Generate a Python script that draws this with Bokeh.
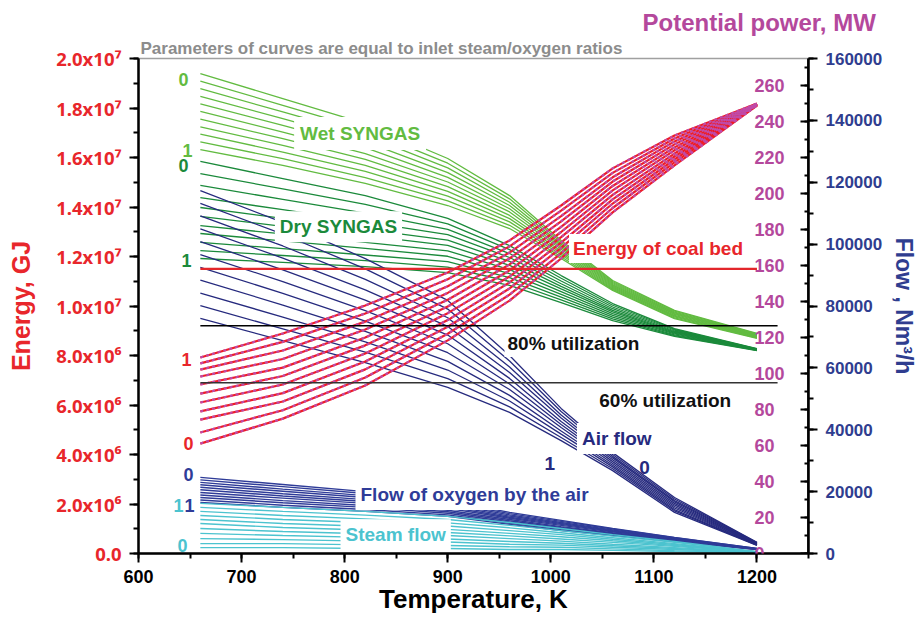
from bokeh.plotting import figure
from bokeh.models import (Range1d, LinearAxis, SingleIntervalTicker, CustomJSTickFormatter,
                          NumeralTickFormatter, Label, Title)
from bokeh.embed import file_html
from bokeh.resources import INLINE

# ---------------- data ----------------
T = [660, 740, 820, 900, 960, 1010, 1060, 1120, 1200]          # temperature, K
ratios = [0.0, 0.1, 0.2, 0.3, 0.4, 0.5, 0.6, 0.7, 0.8, 0.9, 1.0]  # inlet steam/oxygen ratio

# energy of wet syngas, 10^6 GJ (row = ratio 0 ... 1)
wet_syngas = [
    [19.39, 18.38, 17.37, 15.96, 14.46, 12.65, 11.03, 9.82, 8.89],
    [19.09, 18.11, 17.13, 15.77, 14.33, 12.58, 10.99, 9.79, 8.87],
    [18.78, 17.84, 16.89, 15.58, 14.19, 12.50, 10.95, 9.75, 8.85],
    [18.47, 17.57, 16.64, 15.39, 14.06, 12.43, 10.91, 9.72, 8.83],
    [18.17, 17.30, 16.40, 15.20, 13.93, 12.36, 10.87, 9.69, 8.81],
    [17.86, 17.03, 16.16, 15.01, 13.80, 12.29, 10.83, 9.66, 8.79],
    [17.55, 16.76, 15.92, 14.82, 13.66, 12.21, 10.79, 9.62, 8.77],
    [17.24, 16.49, 15.68, 14.63, 13.53, 12.14, 10.75, 9.59, 8.75],
    [16.94, 16.22, 15.44, 14.44, 13.40, 12.07, 10.71, 9.56, 8.73],
    [16.63, 15.95, 15.19, 14.25, 13.26, 11.99, 10.67, 9.52, 8.71],
    [16.32, 15.68, 14.95, 14.06, 13.13, 11.92, 10.63, 9.49, 8.69],
]
# energy of dry syngas, 10^6 GJ
dry_syngas = [
    [15.84, 15.15, 14.46, 13.54, 12.44, 11.23, 10.10, 9.09, 8.28],
    [15.35, 14.73, 14.11, 13.32, 12.28, 11.12, 10.03, 9.06, 8.27],
    [14.87, 14.31, 13.75, 13.10, 12.12, 11.01, 9.96, 9.03, 8.26],
    [14.38, 13.89, 13.40, 12.88, 11.96, 10.90, 9.89, 8.99, 8.26],
    [13.98, 13.54, 13.10, 12.66, 11.80, 10.79, 9.82, 8.96, 8.25],
    [13.62, 13.22, 12.84, 12.45, 11.64, 10.69, 9.76, 8.93, 8.24],
    [13.25, 12.91, 12.57, 12.23, 11.47, 10.58, 9.69, 8.90, 8.23],
    [12.93, 12.63, 12.33, 12.01, 11.31, 10.47, 9.62, 8.87, 8.22],
    [12.57, 12.32, 12.06, 11.79, 11.15, 10.36, 9.55, 8.83, 8.22],
    [12.24, 12.04, 11.83, 11.57, 10.99, 10.25, 9.48, 8.80, 8.21],
    [11.92, 11.76, 11.59, 11.35, 10.83, 10.14, 9.41, 8.77, 8.20],
]
# energy curves (red), 10^6 GJ
energy_curves = [
    [4.44, 5.45, 6.79, 8.61, 10.22, 11.92, 13.78, 15.68, 18.10],
    [4.89, 5.79, 7.11, 8.88, 10.46, 12.13, 13.96, 15.80, 18.11],
    [5.41, 6.14, 7.44, 9.16, 10.71, 12.35, 14.14, 15.92, 18.12],
    [5.74, 6.48, 7.76, 9.43, 10.95, 12.56, 14.31, 16.04, 18.12],
    [6.10, 6.83, 8.08, 9.71, 11.19, 12.78, 14.49, 16.16, 18.13],
    [6.46, 7.17, 8.41, 9.98, 11.44, 12.99, 14.67, 16.29, 18.14],
    [6.83, 7.51, 8.73, 10.25, 11.68, 13.20, 14.85, 16.41, 18.15],
    [7.15, 7.86, 9.05, 10.53, 11.92, 13.42, 15.03, 16.53, 18.16],
    [7.43, 8.20, 9.37, 10.80, 12.16, 13.63, 15.20, 16.65, 18.16],
    [7.68, 8.55, 9.70, 11.08, 12.41, 13.85, 15.38, 16.77, 18.17],
    [7.92, 8.89, 10.02, 11.35, 12.65, 14.06, 15.56, 16.89, 18.18],
]
# potential power, MW (magenta dashed)
power_curves = [
    [61.1, 74.9, 93.4, 118.4, 140.5, 163.9, 189.5, 215.6, 248.9],
    [67.2, 79.6, 97.8, 122.1, 143.8, 166.8, 192.0, 217.3, 249.0],
    [74.4, 84.4, 102.3, 126.0, 147.3, 169.8, 194.4, 218.9, 249.2],
    [78.9, 89.1, 106.7, 129.7, 150.6, 172.7, 196.8, 220.6, 249.2],
    [83.9, 93.9, 111.1, 133.5, 153.9, 175.7, 199.2, 222.2, 249.3],
    [88.8, 98.6, 115.6, 137.2, 157.3, 178.6, 201.7, 224.0, 249.4],
    [93.9, 103.3, 120.0, 140.9, 160.6, 181.5, 204.2, 225.6, 249.6],
    [98.3, 108.1, 124.4, 144.8, 163.9, 184.5, 206.7, 227.3, 249.7],
    [102.2, 112.8, 128.8, 148.5, 167.2, 187.4, 209.0, 228.9, 249.7],
    [105.6, 117.6, 133.4, 152.4, 170.6, 190.4, 211.5, 230.6, 249.8],
    [108.9, 122.2, 137.8, 156.1, 173.9, 193.3, 214.0, 232.2, 250.0],
]
# air flow, 10^3 Nm3/h
air_flow = [
    [117.3, 107.0, 95.3, 81.8, 64.0, 46.9, 32.6, 18.1, 3.6],
    [113.2, 103.2, 92.0, 79.0, 62.2, 45.9, 32.0, 17.6, 3.5],
    [109.1, 99.4, 88.6, 76.2, 60.3, 44.8, 31.4, 17.1, 3.4],
    [104.9, 95.5, 85.2, 73.4, 58.5, 43.8, 30.9, 16.7, 3.3],
    [100.8, 91.7, 81.9, 70.6, 56.6, 42.7, 30.3, 16.2, 3.2],
    [96.6, 87.9, 78.5, 67.8, 54.8, 41.7, 29.7, 15.7, 3.1],
    [92.5, 84.1, 75.1, 64.9, 53.0, 40.7, 29.1, 15.2, 3.0],
    [88.4, 80.3, 71.8, 62.1, 51.1, 39.6, 28.5, 14.7, 2.9],
    [84.2, 76.4, 68.4, 59.3, 49.3, 38.6, 28.0, 14.2, 2.8],
    [80.1, 72.6, 65.1, 56.5, 47.4, 37.5, 27.4, 13.8, 2.7],
    [76.0, 68.8, 61.7, 53.7, 45.6, 36.5, 26.8, 13.3, 2.6],
]
# flow of oxygen by the air, 10^3 Nm3/h
oxygen_flow = [
    [24.6, 22.3, 20.0, 17.1, 13.3, 10.7, 8.1, 5.2, 1.6],
    [23.8, 21.6, 19.4, 16.6, 12.9, 10.4, 7.9, 5.1, 1.6],
    [23.0, 20.8, 18.7, 16.1, 12.5, 10.0, 7.6, 4.9, 1.5],
    [22.2, 20.1, 18.1, 15.6, 12.1, 9.7, 7.4, 4.8, 1.5],
    [21.4, 19.3, 17.4, 15.1, 11.7, 9.4, 7.2, 4.7, 1.5],
    [20.6, 18.6, 16.8, 14.6, 11.4, 9.1, 7.0, 4.6, 1.5],
    [19.7, 17.9, 16.2, 14.0, 11.0, 8.7, 6.7, 4.4, 1.4],
    [18.9, 17.1, 15.5, 13.5, 10.6, 8.4, 6.5, 4.3, 1.4],
    [18.1, 16.4, 14.9, 13.0, 10.2, 8.1, 6.3, 4.2, 1.4],
    [17.3, 15.6, 14.2, 12.5, 9.8, 7.7, 6.0, 4.0, 1.3],
    [16.5, 14.9, 13.6, 12.0, 9.4, 7.4, 5.8, 3.9, 1.3],
]
# steam flow, 10^3 Nm3/h
steam_flow = [
    [1.9, 1.9, 1.6, 1.6, 1.3, 1.3, 1.0, 0.6, 0.3],
    [3.2, 3.2, 2.8, 2.6, 2.2, 2.0, 1.5, 0.9, 0.3],
    [4.8, 4.5, 4.0, 3.7, 3.0, 2.7, 2.0, 1.3, 0.4],
    [6.5, 5.8, 5.2, 4.7, 3.9, 3.3, 2.5, 1.6, 0.4],
    [8.1, 7.1, 6.4, 5.8, 4.8, 4.0, 3.0, 1.9, 0.4],
    [9.7, 8.4, 7.6, 6.8, 5.7, 4.7, 3.6, 2.3, 0.5],
    [11.0, 9.7, 8.8, 7.8, 6.5, 5.4, 4.1, 2.6, 0.5],
    [12.3, 11.0, 10.0, 8.9, 7.4, 6.1, 4.6, 2.9, 0.5],
    [13.6, 12.3, 11.2, 9.9, 8.3, 6.7, 5.1, 3.2, 0.5],
    [14.9, 13.6, 12.4, 11.0, 9.1, 7.4, 5.6, 3.6, 0.6],
    [16.2, 14.9, 13.6, 12.0, 10.0, 8.1, 6.1, 3.9, 0.6],
]
coal_bed_energy = 11.5     # 10^6 GJ
util_80_energy = 9.2
util_60_energy = 6.9
coal_T = [660, 1200]
util_T = [660, 1220]

# ---------------- styling ----------------
FONT = "Liberation Sans"
RED = "#e8262b"
MAG = "#b4489c"
BLUE_LBL = "#2f3d8f"
WET = "#62bb41"
DRY = "#1b8a3b"
NAVY = "#262a7e"
OXY = "#2f3c98"
CYAN = "#4cc3cf"
GRAY = "#8c8c8c"

p = figure(frame_width=670, frame_height=495,
           x_range=Range1d(600, 1250), y_range=Range1d(0, 2.0e7),
           output_backend="svg", toolbar_location=None,
           min_border_left=138, min_border_right=100,
           min_border_top=58, min_border_bottom=60,
           title="Potential power, MW")
p.extra_y_ranges = {"flow": Range1d(0, 160000), "mw": Range1d(0, 275)}
p.grid.visible = False
p.outline_line_color = "#a0a0a0"
p.outline_line_width = 1.5
p.background_fill_color = "white"
p.border_fill_color = "white"

# outer title (top right): potential power
p.title.text_font = FONT
p.title.text_font_size = "24px"
p.title.text_font_style = "bold"
p.title.text_color = MAG
p.title.align = "left"
p.title.offset = 504
p.title.standoff = 0

# inner title, right above the frame
p.add_layout(Title(text="Parameters of curves are equal to inlet steam/oxygen ratios",
                   align="left", offset=2, standoff=2,
                   text_font=FONT, text_font_size="17px", text_font_style="bold",
                   text_color=GRAY), "above")


def style_axis(ax, color):
    ax.axis_line_color = "black"
    ax.axis_line_width = 2.5
    ax.major_tick_line_color = "black"
    ax.major_tick_line_width = 2
    ax.minor_tick_line_color = "black"
    ax.minor_tick_line_width = 2
    ax.major_tick_out = 9
    ax.major_tick_in = 0
    ax.minor_tick_out = 5
    ax.minor_tick_in = 0
    ax.major_label_text_font = FONT
    ax.major_label_text_font_style = "bold"
    ax.major_label_text_font_size = "18px"
    ax.major_label_text_color = color
    ax.axis_label_text_font = FONT
    ax.axis_label_text_font_style = "bold"
    ax.axis_label_text_font_size = "25px"
    ax.axis_label_text_color = color


xax = p.xaxis[0]
style_axis(xax, "black")
xax.ticker = SingleIntervalTicker(interval=100, num_minor_ticks=2)
xax.axis_label = "Temperature, K"
xax.axis_label_text_font_size = "26px"
xax.major_label_standoff = 7
xax.axis_label_standoff = -2

yax = p.yaxis[0]
style_axis(yax, RED)
yax.ticker = SingleIntervalTicker(interval=2e6, num_minor_ticks=2)
yax.formatter = CustomJSTickFormatter(code="""
    if (Math.abs(tick) < 1) { return "0.0"; }
    const e = Math.floor(Math.log10(tick) + 1e-9);
    const m = tick / Math.pow(10, e);
    const sup = {"5": "\u2075", "6": "\u2076", "7": "\u2077", "8": "\u2078"};
    return m.toFixed(1) + "x10" + sup[String(e)];
""")
yax.major_label_text_font = "Noto Sans"
yax.major_label_text_font_size = "18.5px"
yax.major_label_standoff = 8
yax.axis_label = "Energy, GJ"
yax.axis_label_standoff = 18

flow_axis = LinearAxis(y_range_name="flow",
                       ticker=SingleIntervalTicker(interval=20000, num_minor_ticks=2),
                       formatter=NumeralTickFormatter(format="0"))
style_axis(flow_axis, BLUE_LBL)
flow_axis.major_label_text_font_size = "17px"
flow_axis.major_label_standoff = 8
flow_axis.axis_label = "Flow , Nm\u00b3/h"
flow_axis.axis_label_text_font_size = "23px"
flow_axis.axis_label_standoff = 6
p.add_layout(flow_axis, "right")

mw_axis = LinearAxis(y_range_name="mw", fixed_location=1250,
                     ticker=SingleIntervalTicker(interval=20, num_minor_ticks=2))
style_axis(mw_axis, MAG)
mw_axis.major_tick_out = 0
mw_axis.major_tick_in = 8
mw_axis.minor_tick_out = 0
mw_axis.minor_tick_in = 4
mw_axis.major_label_standoff = -54
p.add_layout(mw_axis, "right")

# ---------------- curves ----------------
xs = [T for _ in ratios]
p.multi_line(xs=xs, ys=[[v * 1e6 for v in row] for row in wet_syngas],
             line_color=WET, line_width=1.3)
p.multi_line(xs=xs, ys=[[v * 1e6 for v in row] for row in dry_syngas],
             line_color=DRY, line_width=1.3)
p.multi_line(xs=xs, ys=[[v * 1e3 for v in row] for row in air_flow],
             line_color=NAVY, line_width=1.3, y_range_name="flow")
p.multi_line(xs=xs, ys=[[v * 1e3 for v in row] for row in oxygen_flow],
             line_color=OXY, line_width=1.4, y_range_name="flow")
p.multi_line(xs=xs, ys=[[v * 1e3 for v in row] for row in steam_flow],
             line_color=CYAN, line_width=1.4, y_range_name="flow")
p.multi_line(xs=xs, ys=[[v * 1e6 for v in row] for row in energy_curves],
             line_color="#ee1c25", line_width=2.2)
p.multi_line(xs=xs, ys=power_curves, line_color="#c04aa8", line_width=2.2,
             line_dash="3 3", y_range_name="mw")

p.line(coal_T, [coal_bed_energy * 1e6] * 2, line_color="#e3262b", line_width=2.2)
p.line(util_T, [util_80_energy * 1e6] * 2, line_color="black", line_width=1.6)
p.line(util_T, [util_60_energy * 1e6] * 2, line_color="#333333", line_width=1.6)


# ---------------- annotations ----------------
def add_label(x, y, text, color, size="19px", bg=False, rng="default", pad=0):
    kw = dict(x=x, y=y, text=text, text_align="center", text_baseline="middle",
              text_font=FONT, text_font_style="bold", text_font_size=size,
              text_color=color)
    if rng != "default":
        kw["y_range_name"] = rng
    if bg:
        kw["background_fill_color"] = "white"
        kw["padding"] = pad
    p.add_layout(Label(**kw))


add_label(815, 16.97e6, "Wet SYNGAS", WET, bg=True, pad=6)
add_label(794, 13.2e6, "Dry SYNGAS", DRY, bg=True, pad=5)
add_label(1104, 12.32e6, "Energy of coal bed", RED, bg=True, pad=4)
add_label(1022, 8.48e6, "80% utilization", "#111111", bg=True, pad=3)
add_label(1111, 6.18e6, "60% utilization", "#111111", bg=True, pad=3)
add_label(1064, 37200, "Air flow", NAVY, bg=True, pad=5, rng="flow")
add_label(999, 29100, "1", NAVY, rng="flow")
add_label(1091, 27800, "0", NAVY, rng="flow")
add_label(926, 19100, "Flow of oxygen by the air", OXY, bg=True, pad=5, rng="flow")
add_label(849.5, 6100, "Steam flow", CYAN, bg=True, pad=5, rng="flow")

add_label(643.7, 19.15e6, "0", WET, size="18px")
add_label(647.6, 16.28e6, "1", WET, size="18px")
add_label(643.7, 15.68e6, "0", DRY, size="18px")
add_label(646.6, 11.84e6, "1", DRY, size="18px")
add_label(646.6, 7.84e6, "1", RED, size="18px")
add_label(648.5, 4.44e6, "0", RED, size="18px")
add_label(648.5, 25500, "0", OXY, size="18px", rng="flow")
add_label(638.8, 15500, "1", CYAN, size="18px", rng="flow")
add_label(649.5, 15500, "1", OXY, size="18px", rng="flow")
add_label(642.7, 2600, "0", CYAN, size="18px", rng="flow")

open("out.html", "w").write(file_html(p, INLINE))
